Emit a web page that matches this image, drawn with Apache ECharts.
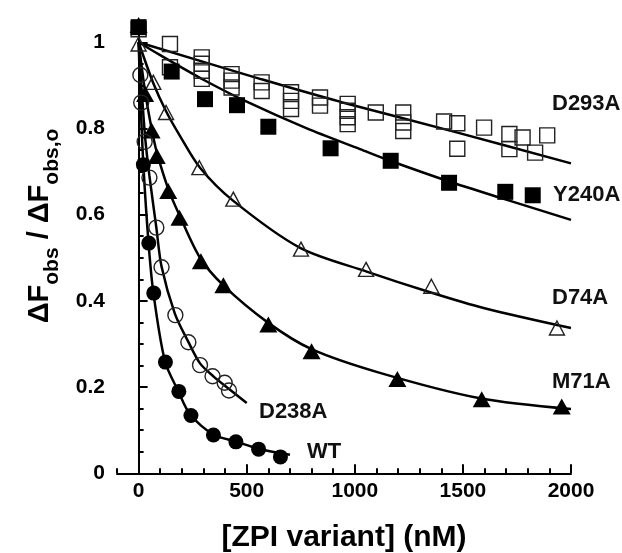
<!DOCTYPE html>
<html><head><meta charset="utf-8">
<script src="https://cdn.jsdelivr.net/npm/echarts@6/dist/echarts.min.js"></script>
<style>html,body{margin:0;padding:0;background:#fff}#c{width:622px;height:553px}</style>
</head><body><div id="c"></div>
<script>
// ---- data ----
const xTickLabels = [0, 500, 1000, 1500, 2000];
const yTickLabels = [0, 0.2, 0.4, 0.6, 0.8, 1];

// measured points  [ZPI nM, dF/dF0]
const d293aPts = [[0,1.03],[145,0.996],[145,0.942],[292,0.965],[292,0.950],[292,0.934],[292,0.915],
  [430,0.926],[430,0.911],[430,0.895],[569,0.907],[569,0.887],[705,0.884],[705,0.864],[705,0.845],
  [839,0.872],[839,0.853],[967,0.857],[967,0.841],[967,0.826],[967,0.810],[1097,0.837],
  [1224,0.837],[1224,0.814],[1224,0.794],[1413,0.816],[1474,0.812],[1474,0.753],[1598,0.802],
  [1715,0.787],[1715,0.752],[1776,0.779],[1834,0.744],[1890,0.784]];
const y240aPts = [[0,1.035],[153,0.932],[307,0.868],[455,0.854],[600,0.804],[888,0.754],[1166,0.725],[1436,0.674],[1696,0.653],[1823,0.645]];
const d74aPts = [[0,0.996],[68,0.907],[127,0.837],[281,0.709],[438,0.636],[751,0.520],[1052,0.473],[1354,0.434],[1935,0.337]];
const m71aPts = [[0,1.04],[30,0.880],[60,0.795],[84,0.736],[137,0.655],[189,0.593],[288,0.492],[392,0.436],[600,0.345],[800,0.283],[1197,0.219],[1587,0.172],[1957,0.155]];
const d238aPts = [[8,0.924],[12,0.860],[28,0.769],[50,0.686],[82,0.570],[106,0.478],[170,0.367],[230,0.304],[284,0.251],[342,0.225],[398,0.210],[418,0.192]];
const wtPts = [[0,1.035],[22,0.716],[47,0.534],[70,0.418],[124,0.258],[186,0.190],[242,0.134],[346,0.089],[450,0.073],[555,0.056],[656,0.038]];

// fitted curves
const d293aFit = [[0,1],[569,0.914],[939,0.861],[1471,0.791],[2000,0.719]];
const y240aFit = [[0,1],[100,0.970],[300,0.913],[500,0.862],[778,0.800],[1024,0.752],[1163,0.725],[1436,0.677],[1700,0.635],[2000,0.588]];
const d74aFit = [[0,1],[68,0.905],[127,0.840],[191,0.783],[284,0.709],[438,0.632],[747,0.523],[1055,0.468],[1348,0.420],[1600,0.383],[2000,0.337]];
const m71aFit = [[0,1],[30,0.885],[60,0.800],[84,0.745],[137,0.660],[188,0.600],[284,0.500],[392,0.436],[600,0.349],[800,0.288],[1116,0.233],[1579,0.174],[2000,0.149]];
const d238aFit = [[0,1],[10,0.920],[30,0.780],[50,0.690],[82,0.570],[106,0.480],[168,0.370],[230,0.305],[284,0.255],[346,0.225],[420,0.195],[500,0.163]];
const wtFit = [[0,1],[10,0.850],[22,0.715],[45,0.540],[68,0.420],[122,0.260],[184,0.190],[238,0.137],[346,0.090],[454,0.073],[554,0.057],[700,0.043]];

const seriesNames = ['D293A','Y240A','D74A','M71A','D238A','WT'];

// ---- chart ----
const FONT = '"Liberation Sans", Arial, Helvetica, sans-serif';
const chart = echarts.init(document.getElementById('c'), null, {renderer:'canvas'});

function fitLine(data){
  return {type:'line', data, xAxisIndex:0, yAxisIndex:0, showSymbol:false, symbol:'none',
    smooth:0.3, lineStyle:{color:'#000', width:2.5}, z:2, silent:true};
}
function pts(data, symbol, size, filled){
  return {type:'scatter', data, xAxisIndex:0, yAxisIndex:0, symbol, symbolSize:size, z:3,
    itemStyle: filled ? {color:'#000', borderColor:'#000', borderWidth:0, opacity:1}
                      : {color:'rgba(0,0,0,0)', borderColor:'#222', borderWidth:1.4, opacity:1}};
}
function label(text, x, y){
  return {type:'text', x, y, z:10, style:{text, fontFamily:FONT, fontWeight:'bold', fontSize:22, fill:'#111', align:'left', verticalAlign:'middle'}};
}

const tickStyle = {width:2, color:'#000'};
const option = {
  animation:false,
  backgroundColor:'#fff',
  grid:{left:117, right:51, top:20.7, bottom:79.7},
  xAxis:[
    {type:'value', min:-100, max:2000, interval:100,
     axisLine:{lineStyle:{color:'#000', width:2}},
     axisTick:{inside:true, length:9, lineStyle:tickStyle, customValues:xTickLabels},
     axisLabel:{customValues:xTickLabels, margin:7, fontSize:21, fontWeight:'bold', color:'#000', fontFamily:FONT,
       formatter:v=>String(Math.round(v))},
     splitLine:{show:false}},
    {type:'value', min:-100, max:2000, interval:100, position:'bottom',
     axisLine:{show:false}, axisTick:{inside:true, length:5, lineStyle:tickStyle},
     axisLabel:{show:false}, splitLine:{show:false}}
  ],
  yAxis:[
    {type:'value', min:0, max:1.05, interval:0.05,
     axisLine:{lineStyle:{color:'#000', width:2}},
     axisTick:{inside:true, length:9, lineStyle:tickStyle, customValues:yTickLabels},
     axisLabel:{customValues:yTickLabels, margin:12, fontSize:21, fontWeight:'bold', color:'#000', fontFamily:FONT,
       formatter:v=>String(+v.toFixed(2))},
     splitLine:{show:false}},
    {type:'value', min:0, max:1.05, interval:0.05, position:'left',
     axisLine:{show:false}, axisTick:{inside:true, length:5, lineStyle:tickStyle},
     axisLabel:{show:false}, splitLine:{show:false}}
  ],
  series:[
    fitLine(d293aFit), fitLine(y240aFit), fitLine(d74aFit), fitLine(m71aFit), fitLine(d238aFit), fitLine(wtFit),
    pts(d293aPts,'rect',15,false),
    pts(y240aPts,'rect',16,true),
    pts(d74aPts,'triangle',[15,14],false),
    pts(m71aPts,'triangle',[18,16],true),
    pts(d238aPts,'circle',15,false),
    pts(wtPts,'circle',15,true)
  ],
  graphic:[
    label(seriesNames[0], 552, 104),
    label(seriesNames[1], 553, 195),
    label(seriesNames[2], 552, 298),
    label(seriesNames[3], 552, 382),
    label(seriesNames[4], 259, 412),
    label(seriesNames[5], 307, 452),
    {type:'text', x:344, y:538, style:{text:'[ZPI variant] (nM)', fontFamily:FONT, fontWeight:'bold', fontSize:30, fill:'#000', align:'center', verticalAlign:'middle'}},
    {type:'text', x:40, y:226, rotation:Math.PI/2,
     style:{text:'{m|ΔF}{s|obs}{m| / ΔF}{s|obs,o}', align:'center', verticalAlign:'middle', fill:'#000',
       rich:{
         m:{fontFamily:FONT, fontWeight:'bold', fontSize:29, lineHeight:32, fill:'#000'},
         s:{fontFamily:FONT, fontWeight:'bold', fontSize:21, lineHeight:46, verticalAlign:'bottom', fill:'#000'}
       }}}
  ]
};
chart.setOption(option);
</script>
</body></html>
